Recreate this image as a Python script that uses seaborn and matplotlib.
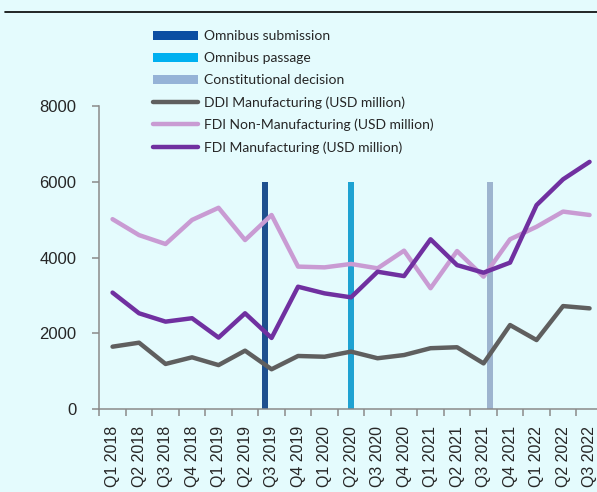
import numpy as np
import pandas as pd
import matplotlib
matplotlib.use("Agg")
import matplotlib.pyplot as plt
from matplotlib.patches import Patch
from matplotlib.lines import Line2D
import seaborn as sns

# ---------------- data ----------------
quarters = ["Q1 2018", "Q2 2018", "Q3 2018", "Q4 2018",
            "Q1 2019", "Q2 2019", "Q3 2019", "Q4 2019",
            "Q1 2020", "Q2 2020", "Q3 2020", "Q4 2020",
            "Q1 2021", "Q2 2021", "Q3 2021", "Q4 2021",
            "Q1 2022", "Q2 2022", "Q3 2022"]

ddi_manufacturing = [1650, 1755, 1195, 1370, 1165, 1545, 1055, 1405, 1385, 1520,
                     1345, 1430, 1610, 1635, 1210, 2220, 1825, 2720, 2660]
fdi_non_manufacturing = [5010, 4590, 4355, 4990, 5310, 4460, 5120, 3760, 3740, 3830,
                         3715, 4180, 3190, 4170, 3495, 4480, 4810, 5210, 5120]
fdi_manufacturing = [3075, 2530, 2310, 2400, 1890, 2530, 1880, 3230, 3055, 2950,
                     3625, 3510, 4480, 3800, 3600, 3865, 5380, 6060, 6520]

event_names = ["Omnibus submission", "Omnibus passage", "Constitutional decision"]
event_quarters = ["Q3 2019", "Q2 2020", "Q3 2021"]
event_values = [6000, 6000, 6000]

line_names = ["DDI Manufacturing (USD million)",
              "FDI Non-Manufacturing (USD million)",
              "FDI Manufacturing (USD million)"]

y_ticks = [0, 2000, 4000, 6000, 8000]

# ---------------- style ----------------
bg = "#E4FBFD"
event_colors = ["#0B4EA2", "#00B0F0", "#95B3D7"]
line_colors = ["#5F5F5F", "#C99BD3", "#7030A0"]
text_color = "#262626"
spine_color = "#8A8A8A"
tick_font = ["Liberation Sans", "DejaVu Sans"]
legend_font = ["Lato", "DejaVu Sans"]

sns.set_theme(style="white")
plt.rcParams["font.family"] = legend_font

fig = plt.figure(figsize=(5.97, 4.92), dpi=100, facecolor=bg)
W, H = 597, 492
ax_left, ax_right, ax_bottom, ax_top = 99.3, 602.8, 409.3, 105.7
ax = fig.add_axes([ax_left / W, 1 - ax_bottom / H,
                   (ax_right - ax_left) / W, (ax_bottom - ax_top) / H])
ax.set_facecolor(bg)

# event bars
events_df = pd.DataFrame({"quarter": event_quarters, "value": event_values,
                          "event": event_names})
sns.barplot(data=events_df, x="quarter", y="value", hue="event",
            order=quarters, hue_order=event_names,
            palette=event_colors, dodge=True, width=0.72,
            legend=False, ax=ax, linewidth=0)

# lines
x_pos = np.arange(len(quarters))
lines_df = pd.DataFrame({"x": np.tile(x_pos, 3),
                         "value": ddi_manufacturing + fdi_non_manufacturing + fdi_manufacturing,
                         "series": np.repeat(line_names, len(quarters))})
sns.lineplot(data=lines_df, x="x", y="value", hue="series",
             hue_order=line_names, palette=line_colors, linewidth=3.2,
             legend=False, ax=ax, sort=False)
for ln in ax.get_lines():
    ln.set_solid_capstyle("round")
    ln.set_solid_joinstyle("round")

# axes formatting
ax.set_xlim(-0.5, len(quarters) - 0.5)
ax.set_ylim(0, 8000)
ax.set_xlabel("")
ax.set_ylabel("")
ax.set_yticks(y_ticks)
ax.set_yticklabels([str(v) for v in y_ticks], fontsize=12, color=text_color,
                   family=tick_font)
ax.set_xticks(x_pos)
ax.set_xticklabels(quarters, rotation=90, fontsize=11.5, color=text_color,
                   family=tick_font)
ax.set_xticks(np.arange(len(quarters) + 1) - 0.5, minor=True)
ax.tick_params(axis="x", which="major", length=0, pad=12)
ax.tick_params(axis="x", which="minor", length=5, width=1.1, color=spine_color,
               direction="out", bottom=True)
ax.tick_params(axis="y", which="major", length=5, width=1.1, color=spine_color,
               direction="out", left=True, pad=11.5)
for s in ["top", "right"]:
    ax.spines[s].set_visible(False)
for s in ["left", "bottom"]:
    ax.spines[s].set_color(spine_color)
    ax.spines[s].set_linewidth(1.1)
ax.grid(False)

# legend
handles = [Patch(facecolor=c, edgecolor="none") for c in event_colors] + \
          [Line2D([0], [0], color=c, lw=3.2, solid_capstyle="round") for c in line_colors]
labels = event_names + line_names
fig.legend(handles, labels, loc="upper left",
           bbox_to_anchor=(153 / W, 1 - 30 / H), frameon=False,
           prop={"family": legend_font, "size": 10}, labelcolor=text_color,
           handlelength=3.25, handleheight=0.6, handletextpad=0.42, labelspacing=0.72,
           borderpad=0, borderaxespad=0)

# top rule
fig.add_artist(Line2D([5 / W, 1.0], [1 - 12 / H, 1 - 12 / H], color="black", lw=1.2,
                      transform=fig.transFigure))

fig.savefig("out.png", dpi=100, facecolor=bg)
